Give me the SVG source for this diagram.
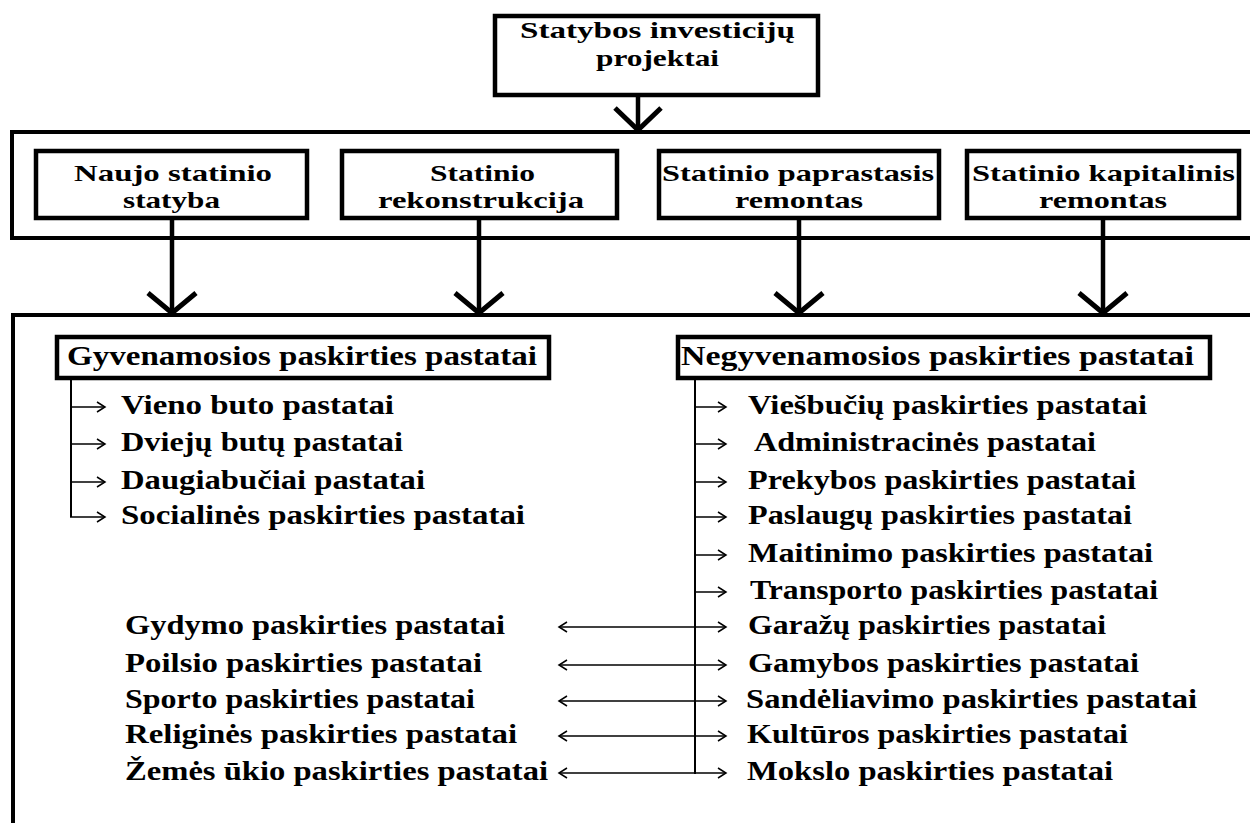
<svg xmlns="http://www.w3.org/2000/svg" width="1250" height="823" viewBox="0 0 1250 823">
<style>
  .box { fill: #fff; stroke: #000; stroke-width: 4.5; }
  .frame { fill: none; stroke: #000; stroke-width: 4; }
  .shaft { fill: none; stroke: #000; stroke-width: 4.5; }
  .head { fill: none; stroke: #000; stroke-width: 5; stroke-linejoin: miter; }
  .thin { fill: none; stroke: #000; stroke-width: 2; }
  .tip { fill: none; stroke: #000; stroke-width: 1.5; }
  text { font-family: "Liberation Serif", "Times New Roman", serif; font-weight: bold; fill: #000; }
  .t24 { font-size: 24px; }
  .t25 { font-size: 24px; }
  .t26 { font-size: 27px; }
</style>
<rect width="1250" height="823" fill="#fff"/>

<g id="frames">
  <path class="frame" d="M1254,132 H12 V238 H1254"/>
  <path class="frame" d="M1254,315 H13 V830"/>
</g>

<g id="connectors">
  <line class="shaft" x1="638" y1="95" x2="638" y2="130"/>
  <polyline class="head" points="615,108 638,130 661,108"/>
  <line class="shaft" x1="172" y1="218" x2="172" y2="312"/>
  <polyline class="head" points="148,293 172,313 196,293"/>
  <line class="shaft" x1="479" y1="218" x2="479" y2="312"/>
  <polyline class="head" points="455,293 479,313 503,293"/>
  <line class="shaft" x1="799" y1="218" x2="799" y2="312"/>
  <polyline class="head" points="775,293 799,313 823,293"/>
  <line class="shaft" x1="1103" y1="218" x2="1103" y2="312"/>
  <polyline class="head" points="1079,293 1103,313 1127,293"/>

  <path class="thin" d="M71,378 V517"/>
  <line class="tip" x1="71" y1="407" x2="105" y2="407"/><polyline class="tip" points="97,402 105,407 97,412"/>
  <line class="tip" x1="71" y1="444" x2="105" y2="444"/><polyline class="tip" points="97,439 105,444 97,449"/>
  <line class="tip" x1="71" y1="482" x2="105" y2="482"/><polyline class="tip" points="97,477 105,482 97,487"/>
  <line class="tip" x1="70" y1="517" x2="105" y2="517"/><polyline class="tip" points="97,512 105,517 97,522"/>

  <path class="thin" d="M695,378 V774"/>
  <line class="tip" x1="695" y1="407" x2="726" y2="407"/><polyline class="tip" points="718,402 726,407 718,412"/>
  <line class="tip" x1="695" y1="444" x2="726" y2="444"/><polyline class="tip" points="718,439 726,444 718,449"/>
  <line class="tip" x1="695" y1="482" x2="726" y2="482"/><polyline class="tip" points="718,477 726,482 718,487"/>
  <line class="tip" x1="695" y1="517" x2="726" y2="517"/><polyline class="tip" points="718,512 726,517 718,522"/>
  <line class="tip" x1="695" y1="555" x2="726" y2="555"/><polyline class="tip" points="718,550 726,555 718,560"/>
  <line class="tip" x1="695" y1="592" x2="726" y2="592"/><polyline class="tip" points="718,587 726,592 718,597"/>
  <line class="tip" x1="559" y1="627" x2="726" y2="627"/><polyline class="tip" points="718,622 726,627 718,632"/><polyline class="tip" points="567,622 559,627 567,632"/>
  <line class="tip" x1="559" y1="665" x2="726" y2="665"/><polyline class="tip" points="718,660 726,665 718,670"/><polyline class="tip" points="567,660 559,665 567,670"/>
  <line class="tip" x1="559" y1="701" x2="726" y2="701"/><polyline class="tip" points="718,696 726,701 718,706"/><polyline class="tip" points="567,696 559,701 567,706"/>
  <line class="tip" x1="559" y1="736" x2="726" y2="736"/><polyline class="tip" points="718,731 726,736 718,741"/><polyline class="tip" points="567,731 559,736 567,741"/>
  <line class="tip" x1="559" y1="773" x2="726" y2="773"/><polyline class="tip" points="718,768 726,773 718,778"/><polyline class="tip" points="567,768 559,773 567,778"/>
</g>

<g id="node-root">
  <rect class="box" x="495" y="16" width="323" height="79"/>
  <text class="t24" x="520" y="38" textLength="275" lengthAdjust="spacingAndGlyphs">Statybos investicijų</text>
  <text class="t24" x="596" y="66" textLength="123" lengthAdjust="spacingAndGlyphs">projektai</text>
</g>

<g id="node-naujo">
  <rect class="box" x="36" y="151" width="271" height="67"/>
  <text class="t25" x="74" y="181" textLength="198" lengthAdjust="spacingAndGlyphs">Naujo statinio</text>
  <text class="t25" x="123" y="208" textLength="97" lengthAdjust="spacingAndGlyphs">statyba</text>
</g>

<g id="node-rekonstrukcija">
  <rect class="box" x="342" y="151" width="275" height="67"/>
  <text class="t25" x="430" y="181" textLength="105" lengthAdjust="spacingAndGlyphs">Statinio</text>
  <text class="t25" x="378" y="208" textLength="206" lengthAdjust="spacingAndGlyphs">rekonstrukcija</text>
</g>

<g id="node-paprastasis">
  <rect class="box" x="659" y="151" width="280" height="67"/>
  <text class="t25" x="662" y="181" textLength="272" lengthAdjust="spacingAndGlyphs">Statinio paprastasis</text>
  <text class="t25" x="735" y="208" textLength="128" lengthAdjust="spacingAndGlyphs">remontas</text>
</g>

<g id="node-kapitalinis">
  <rect class="box" x="967" y="151" width="272" height="67"/>
  <text class="t25" x="972" y="181" textLength="263" lengthAdjust="spacingAndGlyphs">Statinio kapitalinis</text>
  <text class="t25" x="1039" y="208" textLength="128" lengthAdjust="spacingAndGlyphs">remontas</text>
</g>

<g id="node-gyvenamosios">
  <rect class="box" x="57" y="337" width="492" height="41"/>
  <text class="t26" x="67" y="365" textLength="470" lengthAdjust="spacingAndGlyphs">Gyvenamosios paskirties pastatai</text>
</g>

<g id="node-negyvenamosios">
  <rect class="box" x="678" y="337" width="532" height="41"/>
  <text class="t26" x="681" y="365" textLength="513" lengthAdjust="spacingAndGlyphs">Negyvenamosios paskirties pastatai</text>
</g>

<g id="items-residential">
  <text class="t26" x="121" y="414" textLength="273" lengthAdjust="spacingAndGlyphs">Vieno buto pastatai</text>
  <text class="t26" x="121" y="451" textLength="282" lengthAdjust="spacingAndGlyphs">Dviejų butų pastatai</text>
  <text class="t26" x="121" y="489" textLength="304" lengthAdjust="spacingAndGlyphs">Daugiabučiai pastatai</text>
  <text class="t26" x="121" y="524" textLength="404" lengthAdjust="spacingAndGlyphs">Socialinės paskirties pastatai</text>
</g>

<g id="items-nonresidential-right">
  <text class="t26" x="748" y="414" textLength="399" lengthAdjust="spacingAndGlyphs">Viešbučių paskirties pastatai</text>
  <text class="t26" x="754" y="451" textLength="342" lengthAdjust="spacingAndGlyphs">Administracinės pastatai</text>
  <text class="t26" x="748" y="489" textLength="388" lengthAdjust="spacingAndGlyphs">Prekybos paskirties pastatai</text>
  <text class="t26" x="748" y="524" textLength="384" lengthAdjust="spacingAndGlyphs">Paslaugų paskirties pastatai</text>
  <text class="t26" x="748" y="562" textLength="405" lengthAdjust="spacingAndGlyphs">Maitinimo paskirties pastatai</text>
  <text class="t26" x="750" y="599" textLength="408" lengthAdjust="spacingAndGlyphs">Transporto paskirties pastatai</text>
  <text class="t26" x="748" y="634" textLength="358" lengthAdjust="spacingAndGlyphs">Garažų paskirties pastatai</text>
  <text class="t26" x="748" y="672" textLength="391" lengthAdjust="spacingAndGlyphs">Gamybos paskirties pastatai</text>
  <text class="t26" x="746" y="708" textLength="451" lengthAdjust="spacingAndGlyphs">Sandėliavimo paskirties pastatai</text>
  <text class="t26" x="747" y="743" textLength="381" lengthAdjust="spacingAndGlyphs">Kultūros paskirties pastatai</text>
  <text class="t26" x="747" y="780" textLength="366" lengthAdjust="spacingAndGlyphs">Mokslo paskirties pastatai</text>
</g>

<g id="items-nonresidential-left">
  <text class="t26" x="125" y="634" textLength="380" lengthAdjust="spacingAndGlyphs">Gydymo paskirties pastatai</text>
  <text class="t26" x="125" y="672" textLength="357" lengthAdjust="spacingAndGlyphs">Poilsio paskirties pastatai</text>
  <text class="t26" x="125" y="708" textLength="350" lengthAdjust="spacingAndGlyphs">Sporto paskirties pastatai</text>
  <text class="t26" x="125" y="743" textLength="392" lengthAdjust="spacingAndGlyphs">Religinės paskirties pastatai</text>
  <text class="t26" x="125" y="780" textLength="423" lengthAdjust="spacingAndGlyphs">Žemės ūkio paskirties pastatai</text>
</g>
</svg>
